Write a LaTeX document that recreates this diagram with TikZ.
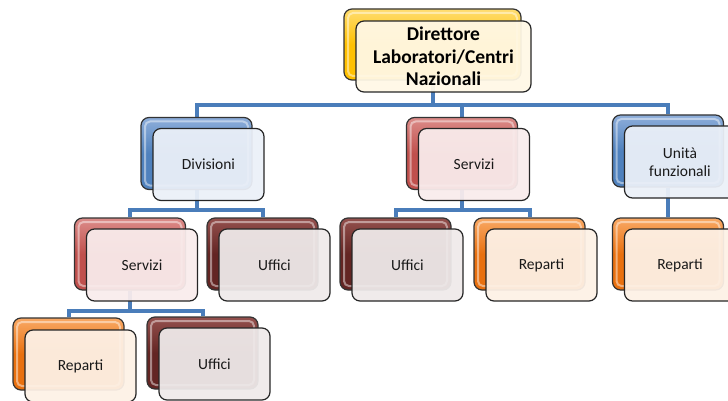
\documentclass[tikz,border=0pt]{standalone}
\usepackage{fontspec}
\setmainfont{Carlito}
\pgfdeclarelayer{background}
\pgfsetlayers{background,main}
\definecolor{connblue}{HTML}{4A7DBA}
\definecolor{ybase}{HTML}{FFC000}\definecolor{ylight}{HTML}{FFDD70}\definecolor{yfront}{HTML}{FFF8E6}
\definecolor{bbase}{HTML}{4F81BD}\definecolor{blight}{HTML}{8EAEDA}\definecolor{bfront}{HTML}{EBF0F8}
\definecolor{rbase}{HTML}{C0504D}\definecolor{rlight}{HTML}{DC8C89}\definecolor{rfront}{HTML}{F9ECEC}
\definecolor{dbase}{HTML}{632523}\definecolor{dlight}{HTML}{94504D}\definecolor{dfront}{HTML}{EFEAEA}
\definecolor{obase}{HTML}{E8700F}\definecolor{olight}{HTML}{F9A965}\definecolor{ofront}{HTML}{FDF1E6}
\begin{document}
\begin{tikzpicture}[x=1pt,y=-1pt,
  conn/.style={draw=connblue, line width=4pt},
  backbox/.style 2 args={rectangle, rounded corners=8pt, draw=black!80, line width=1.2pt,
    minimum width=111pt, minimum height=72pt, inner sep=0pt,
    top color=#2, bottom color=#1, middle color=#1,
    path picture={\draw[white, opacity=0.45, line width=2pt, rounded corners=5pt]
      ([shift={(4pt,4pt)}]path picture bounding box.south west) rectangle
      ([shift={(-4pt,-4pt)}]path picture bounding box.north east);}},
  frontbox/.style={rectangle, rounded corners=8pt, draw=black!85, line width=1.2pt,
    minimum width=111pt, minimum height=72pt, inner sep=2pt, fill=#1, fill opacity=0.94,
    text opacity=1, align=center, font=\fontsize{15.5}{18}\selectfont, text=black!90},
  topfront/.style={frontbox=#1, minimum width=175pt, minimum height=71pt,
    font=\fontsize{19.5}{22.5}\selectfont\bfseries, text=black}
]
\useasboundingbox (0,0) rectangle (728,401);
\clip (0,0) rectangle (728,401);

% top
\node[backbox={ybase}{ylight}, minimum width=177pt, minimum height=71pt] (topB) at (432.5,44.5) {};
\node[topfront=yfront] (topF) at (443.5,56.5) {Direttore\\Laboratori/Centri\\Nazionali};

% level 1
\node[backbox={bbase}{blight}] (divB) at (196.5,153.5) {};
\node[frontbox=bfront] (divF) at (208.5,164.5) {Divisioni};
\node[backbox={rbase}{rlight}] (serMB) at (462,153.5) {};
\node[frontbox=rfront] (serMF) at (474,164.5) {Servizi};
\node[backbox={bbase}{blight}] (uniB) at (668,151) {};
\node[frontbox=bfront] (uniF) at (680,162) {Unità\\funzionali};

% level 2
\node[backbox={rbase}{rlight}] (serLB) at (130,254) {};
\node[frontbox=rfront] (serLF) at (142,265) {Servizi};
\node[backbox={dbase}{dlight}] (ufLB) at (262.5,254) {};
\node[frontbox=dfront] (ufLF) at (274.5,265) {Uffici};
\node[backbox={dbase}{dlight}] (ufMB) at (395.5,254) {};
\node[frontbox=dfront] (ufMF) at (407.5,265) {Uffici};
\node[backbox={obase}{olight}] (repMB) at (529.5,254) {};
\node[frontbox=ofront] (repMF) at (541.5,265) {Reparti};
\node[backbox={obase}{olight}] (repRB) at (668,254) {};
\node[frontbox=ofront] (repRF) at (680,265) {Reparti};

% level 3
\node[backbox={obase}{olight}] (repBB) at (68.5,354) {};
\node[frontbox=ofront] (repBF) at (80.5,366) {Reparti};
\node[backbox={dbase}{dlight}] (ufBB) at (202.5,353) {};
\node[frontbox=dfront] (ufBF) at (214.5,364) {Uffici};

\begin{pgfonlayer}{background}
  \draw[conn] (topB.south) -- ++(0,24) -| (divB.north);
  \draw[conn] (topB.south) -- ++(0,24) -| (serMB.north);
  \draw[conn] (topB.south) -- ++(0,24) -| (uniB.north);
  \draw[conn] (divB.south) -- ++(0,20) -| (serLB.north);
  \draw[conn] (divB.south) -- ++(0,20) -| (ufLB.north);
  \draw[conn] (serMB.south) -- ++(0,20) -| (ufMB.north);
  \draw[conn] (serMB.south) -- ++(0,20) -| (repMB.north);
  \draw[conn] (uniB.south) -- (repRB.north);
  \draw[conn] (serLB.south) -- ++(0,20) -| (repBB.north);
  \draw[conn] (serLB.south) -- ++(0,20) -| (ufBB.north);
\end{pgfonlayer}
\end{tikzpicture}
\end{document}
